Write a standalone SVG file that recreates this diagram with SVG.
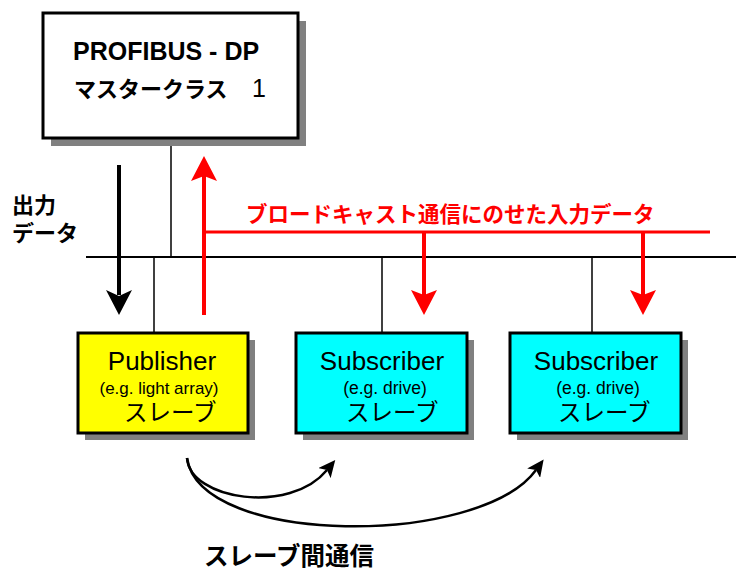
<svg xmlns="http://www.w3.org/2000/svg" width="736" height="571" viewBox="0 0 736 571">
  <style>
    .box { stroke: #000; stroke-width: 3; }
    .shadow { fill: #808080; }
    .lat { font-family: "Liberation Sans", Arial, sans-serif; fill: #000; }
    .jp { font-family: "Liberation Sans", "Noto Sans CJK JP", sans-serif; fill: #000; }
    .wire { stroke: #000; stroke-width: 1.5; fill: none; }
    .red { stroke: #ff0000; fill: none; }
  </style>
  <defs>
    <marker id="headK" markerUnits="userSpaceOnUse" viewBox="0 0 26 26" markerWidth="26" markerHeight="26" refX="5" refY="13" orient="auto">
      <path d="M0,0 L25,13 L0,26 L6,13 Z" fill="#000"/>
    </marker>
    <marker id="headR" markerUnits="userSpaceOnUse" viewBox="0 0 26 26" markerWidth="26" markerHeight="26" refX="5" refY="13" orient="auto">
      <path d="M0,0 L25,13 L0,26 L5,13 Z" fill="#ff0000"/>
    </marker>
    <marker id="headC" markerUnits="userSpaceOnUse" viewBox="0 0 18 16" markerWidth="18" markerHeight="16" refX="4" refY="8" orient="auto">
      <path d="M0,0 L17,8 L0,16 L4,8 Z" fill="#000"/>
    </marker>
  </defs>

  <g id="connectors">
    <line class="wire" x1="171" y1="146" x2="171" y2="257"/>
    <line x1="86" y1="257" x2="736" y2="257" stroke="#000" stroke-width="2"/>
    <line class="wire" x1="154" y1="257" x2="154" y2="333"/>
    <line class="wire" x1="382" y1="257" x2="382" y2="333"/>
    <line class="wire" x1="592" y1="257" x2="592" y2="333"/>
    <line x1="119" y1="165" x2="119" y2="295" stroke="#000" stroke-width="4" marker-end="url(#headK)"/>
    <line class="red" x1="204" y1="315" x2="204" y2="176" stroke-width="4" marker-end="url(#headR)"/>
    <line class="red" x1="204" y1="232" x2="710" y2="232" stroke-width="3"/>
    <line class="red" x1="424" y1="232" x2="424" y2="295" stroke-width="4" marker-end="url(#headR)"/>
    <line class="red" x1="643" y1="232" x2="643" y2="295" stroke-width="4" marker-end="url(#headR)"/>
    <path d="M187,458 C190,500 290,515 327,470" stroke="#000" stroke-width="2.5" fill="none" marker-end="url(#headC)"/>
    <path d="M187,458 C200,547 480,547 536,470" stroke="#000" stroke-width="2.5" fill="none" marker-end="url(#headC)"/>
  </g>

  <g id="master">
    <rect class="shadow" x="51" y="21" width="255" height="125"/>
    <rect class="box" x="43" y="13" width="255" height="125" fill="#ffffff"/>
    <text class="lat" x="73" y="60" font-size="25" font-weight="bold">PROFIBUS - DP</text>
    <text class="jp" x="74" y="97" font-size="22" font-weight="bold">マスタークラス</text>
    <text class="lat" x="252" y="97" font-size="25">1</text>
  </g>

  <g id="output-label">
    <text class="jp" x="12" y="213" font-size="22" font-weight="bold">出力</text>
    <text class="jp" x="12" y="241" font-size="22" font-weight="bold">データ</text>
  </g>

  <g id="broadcast-label">
    <text class="jp" x="246" y="222" font-size="21.5" font-weight="bold" style="fill:#ff0000">ブロードキャスト通信にのせた入力データ</text>
  </g>

  <g id="publisher">
    <rect class="shadow" x="85" y="340" width="170" height="100"/>
    <rect class="box" x="78" y="333" width="170" height="100" fill="#ffff00"/>
    <text class="lat" x="162" y="370" font-size="26" text-anchor="middle">Publisher</text>
    <text class="lat" x="159" y="394" font-size="17" text-anchor="middle">(e.g. light array)</text>
    <text class="jp" x="124" y="421" font-size="23.5">スレーブ</text>
  </g>

  <g id="subscriber1">
    <rect class="shadow" x="303" y="340" width="171" height="100"/>
    <rect class="box" x="296" y="333" width="171" height="100" fill="#00ffff"/>
    <text class="lat" x="382" y="370" font-size="26" text-anchor="middle">Subscriber</text>
    <text class="lat" x="385" y="394" font-size="17.5" text-anchor="middle">(e.g. drive)</text>
    <text class="jp" x="346" y="421" font-size="23.5">スレーブ</text>
  </g>

  <g id="subscriber2">
    <rect class="shadow" x="517" y="340" width="171" height="100"/>
    <rect class="box" x="510" y="333" width="171" height="100" fill="#00ffff"/>
    <text class="lat" x="596" y="370" font-size="26" text-anchor="middle">Subscriber</text>
    <text class="lat" x="598" y="394" font-size="17.5" text-anchor="middle">(e.g. drive)</text>
    <text class="jp" x="558" y="421" font-size="23.5">スレーブ</text>
  </g>

  <g id="slave-comm-label">
    <text class="jp" x="204" y="565" font-size="24.5" font-weight="bold">スレーブ間通信</text>
  </g>
</svg>
